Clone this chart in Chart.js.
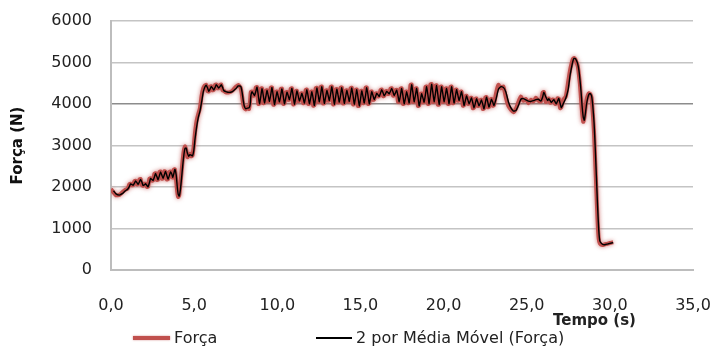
<!DOCTYPE html>
<html>
<head>
<meta charset="utf-8">
<script src="https://cdn.jsdelivr.net/npm/chart.js@4/dist/chart.umd.min.js"></script>
<style>
  html, body { margin: 0; padding: 0; background: #fff; }
  #wrap { position: relative; width: 715px; height: 349px; overflow: hidden; font-family: "DejaVu Sans", sans-serif; color: #222; }
  #wrap canvas { position: absolute; left: 0; top: 0; }
  .x-title { position: absolute; left: 553px; top: 311px; font-size: 15px; font-weight: bold; line-height: 18px; }
  .leg-line { position: absolute; }
  .leg-text { position: absolute; top: 329px; font-size: 16px; line-height: 18px; white-space: nowrap; }
</style>
</head>
<body>
<div id="wrap">
  <canvas id="chart" width="715" height="349"></canvas>
  <div class="x-title">Tempo (s)</div>
  <div class="leg-line" style="left:133px;top:336px;width:37px;height:4px;background:#c0504d;box-shadow:0 0 2px rgba(192,80,77,.7)"></div>
  <div class="leg-text" style="left:174px">Força</div>
  <div class="leg-line" style="left:316px;top:337px;width:36px;height:1.5px;background:#000"></div>
  <div class="leg-text" style="left:356px">2 por Média Móvel (Força)</div>
</div>
<script>
// ── Data (tempo in s, força in N) ────────────────────────────────
// rows of tempo and forca line up one to one
const tempo = [
  0.00, 0.15, 0.30, 0.50, 0.70, 0.85, 1.00,
  1.11, 1.18, 1.26, 1.33, 1.41, 1.48, 1.56, 1.63, 1.71, 1.78, 1.86, 1.93, 2.01, 2.08, 2.16, 2.23, 2.31, 2.38,
  2.46, 2.53, 2.61, 2.68, 2.76, 2.83, 2.91, 2.98, 3.06, 3.13, 3.21, 3.28, 3.36, 3.43, 3.51, 3.58, 3.66, 3.72, 3.78, 3.84,
  3.92, 3.98, 4.04, 4.10, 4.17, 4.24, 4.31, 4.38, 4.45, 4.52, 4.60, 4.68, 4.75, 4.82, 4.90, 4.98, 5.05, 5.15, 5.25, 5.35, 5.45, 5.55, 5.65, 5.72,
  5.81, 5.88, 5.96, 6.03, 6.11, 6.18, 6.26, 6.33, 6.41, 6.48, 6.56, 6.63, 6.71, 6.78,
  6.90, 7.10, 7.30, 7.50, 7.65, 7.80, 7.88, 7.95, 8.02, 8.10, 8.20, 8.30, 8.37,
  8.41, 8.48, 8.56, 8.63, 8.71, 8.78, 8.86, 8.93, 9.01, 9.08, 9.16, 9.23, 9.31, 9.38, 9.46, 9.53, 9.61, 9.68, 9.76, 9.83,
  9.91, 9.98, 10.06, 10.13, 10.21, 10.28, 10.36, 10.43, 10.51, 10.58, 10.66, 10.73, 10.81, 10.88, 10.96, 11.03, 11.11, 11.18, 11.26, 11.33,
  11.41, 11.48, 11.56, 11.63, 11.71, 11.78, 11.86, 11.93, 12.01, 12.08, 12.16, 12.23, 12.31, 12.38, 12.46, 12.53, 12.61, 12.68, 12.76, 12.83,
  12.91, 12.98, 13.06, 13.13, 13.21, 13.28, 13.36, 13.43, 13.51, 13.58, 13.66, 13.73, 13.81, 13.88, 13.96, 14.03, 14.11, 14.18, 14.26, 14.33,
  14.41, 14.48, 14.56, 14.63, 14.71, 14.78, 14.86, 14.93, 15.01, 15.08, 15.16, 15.23, 15.31, 15.38, 15.46, 15.53, 15.61, 15.68, 15.76, 15.83,
  15.91, 15.98, 16.06, 16.13, 16.21, 16.28, 16.36, 16.43, 16.51, 16.58, 16.66, 16.73, 16.81, 16.88, 16.96, 17.03, 17.11, 17.18, 17.26, 17.33,
  17.41, 17.48, 17.56, 17.63, 17.71, 17.78, 17.86, 17.93, 18.01, 18.08, 18.16, 18.23, 18.31, 18.38, 18.46, 18.53, 18.61, 18.68, 18.76, 18.83,
  18.91, 18.98, 19.06, 19.13, 19.21, 19.28, 19.36, 19.43, 19.51, 19.58, 19.66, 19.73, 19.81, 19.88, 19.96, 20.03, 20.11, 20.18, 20.26, 20.33,
  20.41, 20.48, 20.56, 20.63, 20.71, 20.78, 20.86, 20.93, 21.01, 21.08, 21.16, 21.23, 21.31, 21.38, 21.46, 21.53, 21.61, 21.68, 21.76, 21.83,
  21.91, 21.98, 22.06, 22.13, 22.21, 22.28, 22.36, 22.43, 22.51, 22.58, 22.66, 22.73, 22.81, 22.88, 22.96, 23.03,
  23.15, 23.30, 23.45, 23.60, 23.75, 23.90, 24.05, 24.20, 24.35, 24.50, 24.65, 24.80, 24.95, 25.10, 25.25, 25.40, 25.55, 25.70, 25.85,
  25.96, 26.03, 26.15, 26.26, 26.33, 26.41, 26.48, 26.56, 26.63, 26.71, 26.78, 26.86, 26.93, 27.01, 27.08,
  27.20, 27.35, 27.50, 27.60, 27.70, 27.78, 27.85, 27.92, 28.00, 28.07, 28.14, 28.20, 28.27, 28.33, 28.40, 28.46, 28.53, 28.60, 28.68, 28.75,
  28.82, 28.90, 28.97, 29.05, 29.12, 29.19, 29.26, 29.33, 29.40, 29.55, 29.70, 29.85, 30.00, 30.20
];

const forca = [
  1950, 1870, 1800, 1810, 1880, 1930, 1960,
  2070, 2080, 2040, 2045, 2140, 2150, 2060, 2070, 2180, 2190, 2040, 2030, 2080, 2075, 2000, 2010, 2200, 2210,
  2150, 2160, 2320, 2330, 2170, 2180, 2360, 2370, 2200, 2210, 2380, 2370, 2180, 2190, 2360, 2370, 2240, 2230, 2420, 2430,
  2150, 1900, 1760, 1800, 2050, 2350, 2650, 2880, 2980, 2900, 2720, 2760, 2800, 2740, 2760, 3000, 3300, 3600, 3760, 3900, 4200, 4380, 4450, 4460,
  4310, 4300, 4420, 4430, 4330, 4340, 4460, 4470, 4380, 4385, 4460, 4470, 4330, 4320,
  4280, 4280, 4320, 4410, 4460, 4390, 4200, 3990, 3900, 3870, 3930, 3880, 4100,
  4290, 4300, 4200, 4210, 4400, 4410, 4000, 4010, 4370, 4380, 4020, 4030, 4320, 4330, 4060, 4070, 4390, 4400, 3980, 3990,
  4290, 4300, 4050, 4060, 4360, 4370, 4000, 4010, 4280, 4290, 4100, 4110, 4370, 4380, 3990, 4000, 4310, 4320, 4070, 4080,
  4250, 4260, 4020, 4030, 4340, 4350, 4000, 4010, 4290, 4300, 3960, 3970, 4380, 4390, 4050, 4060, 4410, 4420, 4010, 4020,
  4320, 4330, 4080, 4090, 4410, 4420, 3990, 4000, 4350, 4360, 4040, 4050, 4390, 4400, 4010, 4020, 4320, 4330, 4060, 4070,
  4380, 4390, 3990, 4000, 4340, 4350, 3950, 3960, 4310, 4320, 4020, 4030, 4390, 4400, 4000, 4010, 4290, 4300, 4100, 4110,
  4250, 4260, 4180, 4190, 4340, 4350, 4190, 4200, 4300, 4310, 4240, 4250, 4370, 4380, 4200, 4210, 4330, 4340, 4050, 4060,
  4370, 4380, 4000, 4010, 4290, 4300, 4020, 4030, 4460, 4470, 4050, 4060, 4370, 4380, 3950, 3960, 4240, 4250, 4040, 4050,
  4410, 4420, 4000, 4010, 4470, 4480, 4050, 4060, 4440, 4450, 3980, 3990, 4410, 4420, 4050, 4060, 4370, 4380, 4000, 4010,
  4410, 4420, 4020, 4030, 4340, 4350, 4080, 4090, 4290, 4300, 3960, 3970, 4190, 4200, 4000, 4010, 4140, 4150, 3900, 3910,
  4120, 4130, 3950, 3960, 4090, 4100, 3880, 3890, 4160, 4170, 3920, 3930, 4110, 4120, 3960, 3970,
  4250, 4460, 4380, 4420, 4150, 3950, 3860, 3800, 3880, 4050, 4180, 4080, 4120, 4020, 4100, 4060, 4150, 4080, 4060,
  4280, 4290, 4050, 4120, 4130, 4030, 4040, 4110, 4100, 4000, 4010, 4140, 4130, 3900, 3920,
  4100, 4180, 4550, 4800, 4980, 5090, 5110, 5080, 5000, 4920, 4700, 4480, 4100, 3800, 3570, 3650, 3900, 4100, 4220, 4260,
  4240, 4150, 3800, 3300, 2600, 1900, 1200, 750, 640, 600, 620, 630, 650, 670
];

// Excel-style 2-period moving average trendline of the força series
const mediaMovel = forca.map((v, i) => (i === 0 ? null : (forca[i - 1] + v) / 2));

const xTicks = [0, 5, 10, 15, 20, 25, 30, 35];
const yTicks = [0, 1000, 2000, 3000, 4000, 5000, 6000];

// ── Soft halo on the red series (Excel shadow look) ─────────────
const glowPlugin = {
  id: "glow",
  beforeDatasetDraw(chart, args) {
    if (args.index !== 0) return;
    const ctx = chart.ctx;
    ctx.save();
    ctx.shadowColor = "rgba(192,80,77,0.75)";
    ctx.shadowBlur = 4;
  },
  afterDatasetDraw(chart, args) {
    if (args.index === 0) chart.ctx.restore();
  },
};

const tickFont = { family: "DejaVu Sans", size: 16 };

new Chart(document.getElementById("chart"), {
  type: "line",
  data: {
    datasets: [
      {
        label: "Força",
        data: tempo.map((t, i) => ({ x: t, y: forca[i] })),
        borderColor: "#c0504d",
        borderWidth: 4,
        pointRadius: 0,
        tension: 0.15,
        order: 2,
      },
      {
        label: "2 por Média Móvel (Força)",
        data: tempo.map((t, i) => ({ x: t, y: mediaMovel[i] })),
        borderColor: "#000",
        borderWidth: 1.4,
        pointRadius: 0,
        tension: 0.15,
        order: 1,
      },
    ],
  },
  options: {
    responsive: false,
    animation: false,
    layout: { padding: { left: 0, right: 22, top: 21, bottom: 0 } },
    plugins: { legend: { display: false }, tooltip: { enabled: false } },
    scales: {
      x: {
        type: "linear",
        min: 0,
        max: 35,
        afterBuildTicks: (s) => { s.ticks = xTicks.map((v) => ({ value: v })); },
        afterFit: (s) => { s.height = 79; },
        // invisible tick marks push the labels down without widening the side padding
        grid: { display: true, drawOnChartArea: false, drawTicks: true, tickLength: 23, tickColor: "rgba(0,0,0,0)" },
        border: { display: true, color: "#bdbdbd", width: 2 },
        ticks: {
          font: tickFont, color: "#222", padding: 3, maxRotation: 0,
          callback: (v) => v.toFixed(1).replace(".", ","),
        },
      },
      y: {
        min: 0,
        max: 6000,
        afterBuildTicks: (s) => { s.ticks = yTicks.map((v) => ({ value: v })); },
        afterFit: (s) => { s.width = 111; },
        grid: {
          drawTicks: true,
          tickLength: 16,
          tickColor: "rgba(0,0,0,0)",
          lineWidth: 1.5,
          color: (c) => (c.tick && c.tick.value === 4000 ? "#8c8c8c" : "#c4c4c4"),
        },
        border: { display: true, color: "#bdbdbd", width: 2 },
        ticks: { font: tickFont, color: "#222", padding: 3, callback: (v) => String(v) },
        title: {
          display: true,
          text: "Força (N)",
          color: "#111",
          font: { family: "DejaVu Sans", size: 15, weight: "bold" },
          padding: { top: 9, bottom: 0 },
        },
      },
    },
  },
  plugins: [glowPlugin],
});
</script>
</body>
</html>
